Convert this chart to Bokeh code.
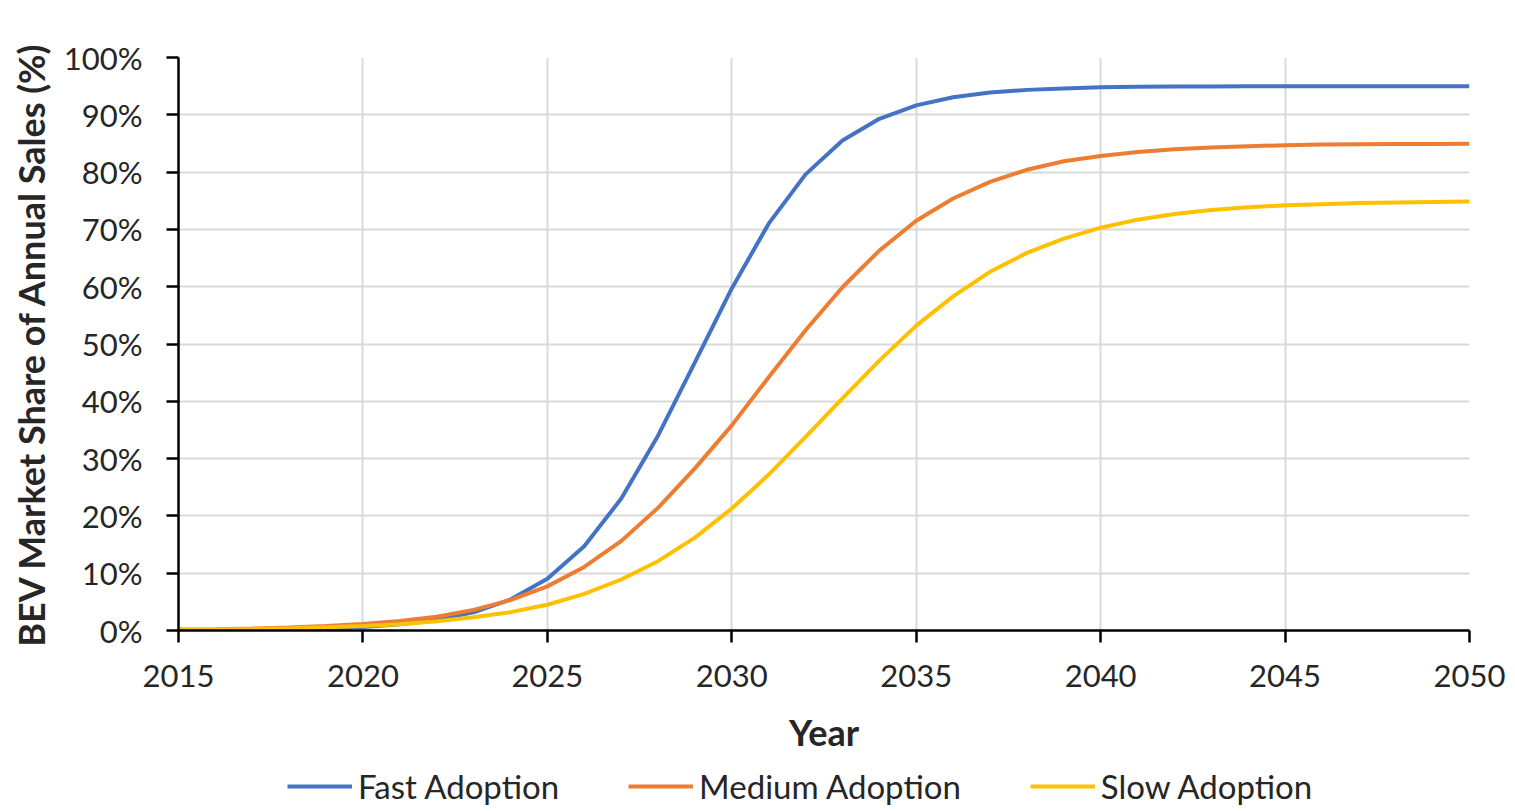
from bokeh.plotting import figure
from bokeh.layouts import column
from bokeh.models import Range1d, FixedTicker, PrintfTickFormatter, Legend, LegendItem
from bokeh.embed import file_html
from bokeh.resources import INLINE

years = list(range(2015, 2051))
fast = [0.04, 0.07, 0.12, 0.20, 0.35, 0.62, 1.07, 1.85, 3.18, 5.4, 9.05, 14.7, 23.0, 34.0,
        46.8, 59.7, 71.0, 79.6, 85.5, 89.3, 91.65, 93.05, 93.9, 94.35, 94.6, 94.8, 94.88,
        94.93, 94.96, 94.97, 94.98, 94.99, 94.99, 95.0, 95.0, 95.0]
medium = [0.16, 0.24, 0.35, 0.52, 0.77, 1.15, 1.65, 2.4, 3.6, 5.3, 7.7, 11.1, 15.6, 21.4,
          28.3, 35.8, 44.2, 52.4, 59.9, 66.3, 71.5, 75.4, 78.3, 80.4, 81.9, 82.8, 83.5,
          84.0, 84.3, 84.5, 84.7, 84.8, 84.85, 84.9, 84.92, 84.95]
slow = [0.13, 0.19, 0.27, 0.39, 0.56, 0.78, 1.1, 1.6, 2.3, 3.2, 4.5, 6.4, 8.9, 12.1,
        16.2, 21.3, 27.2, 33.8, 40.5, 47.1, 53.2, 58.3, 62.6, 65.9, 68.4, 70.3, 71.7,
        72.7, 73.4, 73.85, 74.2, 74.4, 74.6, 74.7, 74.8, 74.85]
series_names = ["Fast Adoption", "Medium Adoption", "Slow Adoption"]
x_ticks = [2015, 2020, 2025, 2030, 2035, 2040, 2045, 2050]
y_ticks = [0, 10, 20, 30, 40, 50, 60, 70, 80, 90, 100]

FONT = "Lato"
colors = ["#4472C4", "#ED7D31", "#FFC000"]

p = figure(frame_width=1291, frame_height=573, output_backend="svg", toolbar_location=None,
           x_range=Range1d(2015, 2050), y_range=Range1d(0, 100),
           min_border_left=178, min_border_right=40, min_border_top=57, min_border_bottom=0)
p.outline_line_color = None
p.background_fill_color = "white"

renderers = []
for data, c in zip([fast, medium, slow], colors):
    renderers.append(p.line(years, data, line_color=c, line_width=4))

for ax in (p.xaxis[0], p.yaxis[0]):
    ax.axis_line_color = "black"
    ax.axis_line_width = 2.5
    ax.major_tick_line_color = "black"
    ax.major_tick_line_width = 2.5
    ax.major_tick_out = 12
    ax.major_tick_in = 0
    ax.minor_tick_line_color = None
    ax.major_label_text_font = FONT
    ax.major_label_text_font_size = "31px"
    ax.major_label_text_color = "#262626"
    ax.axis_label_text_font = FONT
    ax.axis_label_text_font_size = "36px"
    ax.axis_label_text_font_style = "bold"
    ax.axis_label_text_color = "#262626"

p.xaxis.ticker = FixedTicker(ticks=x_ticks)
p.yaxis.ticker = FixedTicker(ticks=y_ticks)
p.yaxis.formatter = PrintfTickFormatter(format="%d%%")
p.xaxis.axis_label = "Year"
p.yaxis.axis_label = "BEV Market Share of Annual Sales (%)"
p.xaxis.major_label_standoff = 22
p.yaxis.major_label_standoff = 24
p.xaxis.axis_label_standoff = 20
p.yaxis.axis_label_standoff = 8

for g in (p.xgrid[0], p.ygrid[0]):
    g.grid_line_color = "#d9d9d9"
    g.grid_line_width = 2

# legend strip below the chart (frame aligned with the chart frame)
lg = figure(frame_width=1291, height=52, output_backend="svg", toolbar_location=None,
            x_range=Range1d(0, 1), y_range=Range1d(0, 1),
            min_border_left=178, min_border_right=40, min_border_top=0, min_border_bottom=0)
lg.axis.visible = False
lg.grid.visible = False
lg.outline_line_color = None
lg_renderers = [lg.line([0, 1], [-10, -10], line_color=c, line_width=4) for c in colors]
legend = Legend(items=[LegendItem(label=n, renderers=[r]) for n, r in zip(series_names, lg_renderers)],
                orientation="horizontal", location=(109, 2),
                label_text_font=FONT, label_text_font_size="33px", label_text_color="#262626",
                glyph_width=65, glyph_height=28, label_standoff=6, spacing=69,
                border_line_color=None, background_fill_alpha=0, padding=0, margin=0)
lg.add_layout(legend, "center")

open("out.html", "w").write(file_html(column(p, lg), INLINE))
